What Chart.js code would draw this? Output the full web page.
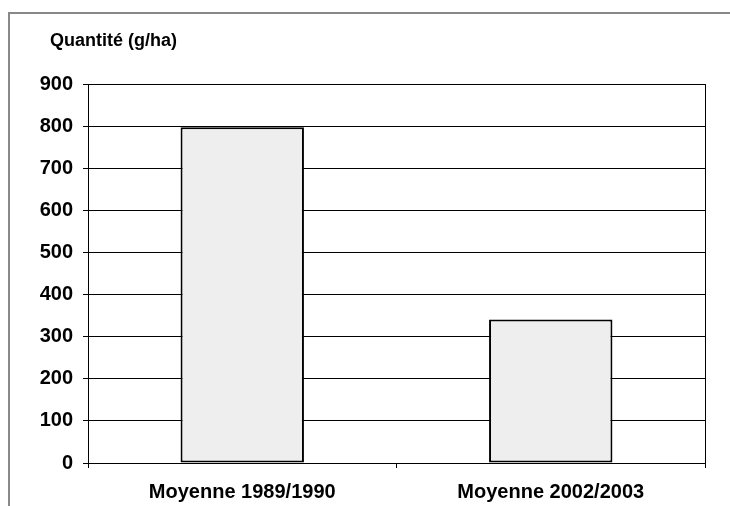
<!DOCTYPE html>
<html>
<head>
<meta charset="utf-8">
<script src="https://cdn.jsdelivr.net/npm/chart.js@4"></script>
<style>
  html, body { margin: 0; padding: 0; background: #fff; }
  #wrap { position: relative; width: 730px; height: 506px; }
  #frame {
    position: absolute; left: 8px; top: 12px; right: -10px; bottom: -10px;
    border-left: 2px solid #888; border-top: 2px solid #888;
  }
  canvas { position: absolute; left: 0; top: 0; }
</style>
</head>
<body>
<div id="wrap">
  <div id="frame"></div>
  <canvas id="chart" width="730" height="506"></canvas>
</div>
<script>
// Data
const categories = ["Moyenne 1989/1990", "Moyenne 2002/2003"];
const quantities = [797, 341];
const yTicks = [0, 100, 200, 300, 400, 500, 600, 700, 800, 900];
const yTitle = "Quantité (g/ha)";

const fontFamily = "'Liberation Sans', Arial, sans-serif";

// Axis title above the plot + right border of the plot area
const decorations = {
  id: "decorations",
  afterDraw(chart) {
    const { ctx, chartArea } = chart;
    ctx.save();
    ctx.strokeStyle = "#000";
    ctx.lineWidth = 1;
    ctx.beginPath();
    ctx.moveTo(chartArea.right + 0.5, chartArea.top);
    ctx.lineTo(chartArea.right + 0.5, chartArea.bottom + 5);
    ctx.stroke();

    ctx.fillStyle = "#000";
    ctx.font = "bold 18px " + fontFamily;
    ctx.textAlign = "left";
    ctx.textBaseline = "middle";
    ctx.fillText(yTitle, 50, 41);
    ctx.restore();
  },
};

const ctx = document.getElementById("chart").getContext("2d");
new Chart(ctx, {
  type: "bar",
  data: {
    labels: categories,
    datasets: [
      {
        label: yTitle,
        data: quantities,
        backgroundColor: "#eeeeee",
        borderColor: "#000",
        borderWidth: 2,
        borderSkipped: false,
        barPercentage: 0.4,
        categoryPercentage: 1,
      },
    ],
  },
  options: {
    responsive: false,
    animation: false,
    layout: {
      padding: { left: 0, right: 25, top: 84, bottom: 0 },
    },
    scales: {
      x: {
        afterFit(scale) {
          scale.height = 43;
        },
        grid: {
          display: true,
          drawOnChartArea: false,
          color: "#000",
          tickLength: 5,
        },
        border: { color: "#000" },
        ticks: {
          color: "#000",
          padding: 12,
          font: { family: fontFamily, size: 20, weight: "bold" },
        },
      },
      y: {
        min: 0,
        max: 900,
        afterFit(scale) {
          scale.width = 88;
        },
        afterBuildTicks(scale) {
          scale.ticks = yTicks.map((v) => ({ value: v }));
        },
        grid: {
          color: "#000",
          tickLength: 5,
        },
        border: { color: "#000" },
        ticks: {
          color: "#000",
          padding: 10,
          font: { family: fontFamily, size: 20, weight: "bold" },
        },
      },
    },
    plugins: {
      legend: { display: false },
      tooltip: { enabled: false },
      title: { display: false },
    },
  },
  plugins: [decorations],
});
</script>
</body>
</html>
